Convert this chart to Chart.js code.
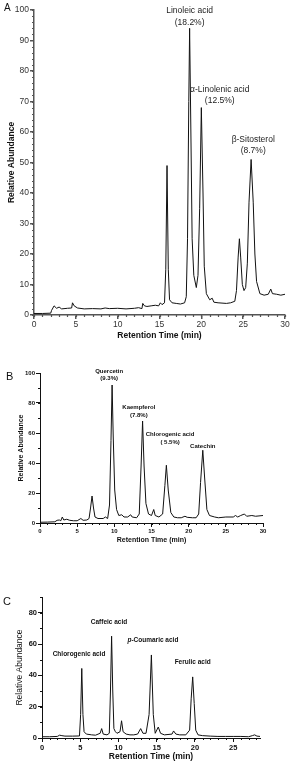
<!DOCTYPE html>
<html>
<head>
<meta charset="utf-8">
<script src="https://cdn.jsdelivr.net/npm/chart.js@4.4.1/dist/chart.umd.min.js"></script>
<style>
  body { margin:0; background:#fff; width:298px; height:765px; position:relative; overflow:hidden; }
  .panel { position:absolute; left:0; width:298px; }
</style>
</head>
<body>
<div class="panel" style="top:0px;height:342px"><canvas id="chartA" width="298" height="342"></canvas></div>
<div class="panel" style="top:350px;height:198px"><canvas id="chartB" width="298" height="198"></canvas></div>
<div class="panel" style="top:560px;height:205px"><canvas id="chartC" width="298" height="205"></canvas></div>
<script>
// Panel A - fatty acids / sterol (retention time in min, relative abundance)
const timeA = [0,1,2,2.1,2.4,2.7,3,3.3,4,4.5,4.6,4.8,5.2,6,7,8,8.5,9,10,11,12,12.5,12.9,13,13.2,13.5,14,14.5,14.9,15.1,15.3,15.6,15.75,15.9,16.05,16.2,16.5,17,17.5,18,18.2,18.35,18.5,18.6,18.75,18.9,19.1,19.4,19.6,19.8,20,20.2,20.35,20.6,21,21.3,21.5,22,23,23.5,24,24.2,24.4,24.55,24.7,24.9,25.1,25.3,25.5,25.7,25.95,26.2,26.4,26.6,27,27.5,28,28.3,28.5,29,29.5,30];
const abundA = [0.5,0.5,0.6,1.5,3,2.2,2.6,2,2.2,2.3,4,3,2.3,2,2.1,2,2.3,2.1,2.2,2,2.2,2.4,2.1,3.8,3,2.8,3,3.2,3,4,3.4,4,15,49,15,5,4,3.8,3.6,4,6,25,70,94,60,25,13,9,13,35,68,40,16,7,5,5.5,4.2,4,3.8,4,4.5,8,19,25,19,10,8,9,17,37,51,37,20,11,7,6.5,6.8,8.5,7,6.8,6.5,6.8];
const namesA = ['Linoleic acid','\u03b1-Linolenic acid','\u03b2-Sitosterol'];
const sharesA = ['(18.2%)','(12.5%)','(8.7%)'];

// Panel B - flavonoids
const timeB = [0,1,2,2.3,2.6,2.8,3,3.2,3.6,4,4.5,5,5.5,5.8,6.3,6.6,6.8,7,7.2,7.4,7.8,8.5,8.8,9.1,9.35,9.55,9.7,9.85,10.05,10.3,10.6,11,11.3,11.8,12.2,12.4,13,13.35,13.6,13.8,14,14.25,14.6,15,15.3,15.5,16,16.5,16.8,17,17.25,17.6,18,18.5,19,19.5,19.8,20.5,21,21.35,21.6,21.9,22.15,22.45,22.8,23.5,24,25,26,26.3,26.6,27,27.5,27.8,28.5,29,30];
const abundB = [0.5,0.6,0.8,1.8,2,1.5,4,2,2.5,1.8,1.5,1.5,3,1.8,2,3,10,18,10,4,3,3,4,3,12,55,92,58,22,9,5,5.5,4,4,5.5,4,3.5,6,38,68,38,13,6,5,9,5,4,6,25,38.5,22,7,4,3.5,3.5,4.5,3.8,3.5,3.5,6,27,48.5,30,9,5,4,3.5,4,4,5,4,5,6,4.5,5,4.5,5];
const namesB = ['Quercetin','Kaempferol','Chlorogenic acid','Catechin'];
const sharesB = ['(9.3%)','(7.8%)','( 5.5%)',''];

// Panel C - phenolic acids
const timeC = [0,1,2,2.3,2.6,3,4,4.9,5.05,5.2,5.35,5.5,5.8,6.5,7,7.6,7.8,8,8.5,8.8,8.95,9.1,9.25,9.4,9.6,9.8,10.2,10.4,10.6,11,11.5,12,12.5,12.9,13.2,13.6,14,14.3,14.55,14.8,15.2,15.5,16,17,17.2,17.5,18,18.8,19.3,19.5,19.7,19.9,20.1,20.4,21,22,23,24,25,26,27,27.5,27.8,28.1,28.5];
const abundC = [0.8,0.8,1,1.8,1.5,1.2,1.2,1.3,15,44.4,15,4,2.5,2,1.8,3,6,2.5,2,3,30,65,30,6,4,3,4,11,4,2.5,2,2,2.5,6,3,3,15,53,15,3,7,3,2,2.5,4.5,2.5,2,2,5,25,39,22,5,2,1.5,1.2,1,1,1,1,0.8,1.5,2,1.2,1];
const namesC = ['Chlorogenic acid','Caffeic acid','-Coumaric acid','Ferulic acid'];

const FONT = "'Liberation Sans', Arial, Helvetica, sans-serif";

// minor ticks, peak labels and panel letter
const extras = {
  id: 'extras',
  afterDraw(chart, args, o) {
    const ctx = chart.ctx, xs = chart.scales.x, ys = chart.scales.y, ca = chart.chartArea;
    ctx.save();
    ctx.strokeStyle = o.color; ctx.lineWidth = o.width;
    ctx.beginPath();
    for (let v = xs.min; v <= xs.max + 1e-9; v += o.minorX) {
      const p = Math.round(xs.getPixelForValue(v)) + 0.5;
      ctx.moveTo(p, ca.bottom); ctx.lineTo(p, ca.bottom + o.minorLen);
    }
    for (let v = ys.min; v <= ys.max + 1e-9; v += o.minorY) {
      const p = Math.round(ys.getPixelForValue(v)) + 0.5;
      ctx.moveTo(ca.left, p); ctx.lineTo(ca.left - o.minorLen, p);
    }
    ctx.stroke();
    ctx.fillStyle = o.textColor;
    ctx.textAlign = 'center'; ctx.textBaseline = 'middle';
    o.labels.forEach(l => {
      ctx.font = o.labelFont;
      const px = xs.getPixelForValue(l.x);
      l.lines.forEach((t, i) => {
        if (!t) return;
        const py = ys.getPixelForValue(l.y[i]);
        if (l.italic && i === 0) {
          ctx.font = 'italic ' + o.labelFont;
          const w1 = ctx.measureText(l.italic).width;
          ctx.font = o.labelFont;
          const w2 = ctx.measureText(t).width;
          const x0 = px - (w1 + w2) / 2;
          ctx.textAlign = 'left';
          ctx.font = 'italic ' + o.labelFont;
          ctx.fillText(l.italic, x0, py);
          ctx.font = o.labelFont;
          ctx.fillText(t, x0 + w1, py);
          ctx.textAlign = 'center';
        } else {
          ctx.fillText(t, px, py);
        }
      });
    });
    ctx.font = o.letterFont; ctx.textAlign = 'left'; ctx.textBaseline = 'alphabetic';
    ctx.fillStyle = '#111';
    ctx.fillText(o.letter, o.letterX, o.letterY);
    ctx.restore();
  }
};

function makeChart(id, p) {
  const pts = p.time.map((t, i) => ({x: t, y: p.abund[i]}));
  return new Chart(document.getElementById(id), {
    type: 'scatter',
    data: { datasets: [{ data: pts, showLine: true, borderColor: '#111', borderWidth: 1, pointRadius: 0, tension: 0 }] },
    options: {
      responsive: false, animation: false,
      layout: { padding: p.pad },
      plugins: { legend: {display:false}, tooltip: {enabled:false}, extras: p.extras },
      scales: {
        x: {
          type: 'linear', min: 0, max: p.xmax,
          border: { color: p.axisColor, width: p.axisWidth },
          grid: { drawOnChartArea: false, tickLength: 4, color: p.axisColor, lineWidth: p.axisWidth },
          ticks: { stepSize: 5, includeBounds: false, padding: 1, color: p.tickColor, font: p.tickFont, maxRotation: 0 },
          title: { display: true, text: 'Retention Time (min)', color: '#111', font: p.xTitleFont, padding: p.xTitlePad },
          afterFit: s => { s.height = p.xH; }
        },
        y: {
          type: 'linear', min: 0, max: p.ymax,
          border: { color: p.axisColor, width: p.axisWidth },
          grid: { drawOnChartArea: false, tickLength: 4, color: p.axisColor, lineWidth: p.axisWidth },
          ticks: { stepSize: p.ystep, includeBounds: false, padding: 1, color: p.tickColor, font: p.tickFont },
          title: { display: true, text: 'Relative Abundance', color: '#111', font: p.yTitleFont, padding: p.yTitlePad },
          afterFit: s => { s.width = p.yW; }
        }
      }
    },
    plugins: [extras]
  });
}

makeChart('chartA', {
  time: timeA, abund: abundA, xmax: 30, ymax: 100, ystep: 10,
  pad: {top: 10, right: 13, bottom: 0, left: 0}, xH: 27, yW: 34,
  axisColor: '#555', axisWidth: 1.5, tickColor: '#333',
  tickFont: {family: FONT, size: 8.5},
  xTitleFont: {family: FONT, size: 8.5, weight: 'bold'}, xTitlePad: {top: 0, bottom: 1},
  yTitleFont: {family: FONT, size: 8.5, weight: 'bold'}, yTitlePad: {top: 7, bottom: 0},
  extras: {
    color: '#555', width: 1.2, minorX: 1, minorY: 2, minorLen: 2, textColor: '#222',
    labelFont: '8.5px ' + FONT,
    labels: [
      {lines: [namesA[0], sharesA[0]], x: 18.6, y: [99.8, 95.8]},
      {lines: [namesA[1], sharesA[1]], x: 22.2, y: [73.8, 70.2]},
      {lines: [namesA[2], sharesA[2]], x: 26.2, y: [57.4, 53.8]}
    ],
    letter: 'A', letterFont: '10px ' + FONT, letterX: 4, letterY: 11
  }
});

makeChart('chartB', {
  time: timeB, abund: abundB, xmax: 30, ymax: 100, ystep: 20,
  pad: {top: 23, right: 35, bottom: 0, left: 0}, xH: 25, yW: 40,
  axisColor: '#111', axisWidth: 1, tickColor: '#111',
  tickFont: {family: FONT, size: 6, weight: 'bold'},
  xTitleFont: {family: FONT, size: 7, weight: 'bold'}, xTitlePad: {top: 0, bottom: 4},
  yTitleFont: {family: FONT, size: 7, weight: 'bold'}, yTitlePad: {top: 17, bottom: 0},
  extras: {
    color: '#111', width: 1, minorX: 1, minorY: 10, minorLen: 2, textColor: '#111',
    labelFont: 'bold 6px ' + FONT,
    labels: [
      {lines: [namesB[0], sharesB[0]], x: 9.3, y: [101.3, 96.6]},
      {lines: [namesB[1], sharesB[1]], x: 13.3, y: [77.3, 71.9]},
      {lines: [namesB[2], sharesB[2]], x: 17.5, y: [59.3, 53.9]},
      {lines: [namesB[3], sharesB[3]], x: 21.9, y: [51.2, 0]}
    ],
    letter: 'B', letterFont: '11px ' + FONT, letterX: 6, letterY: 30
  }
});

makeChart('chartC', {
  time: timeC, abund: abundC, xmax: 28.5, ymax: 90, ystep: 20,
  pad: {top: 37, right: 38, bottom: 0, left: 0}, xH: 27, yW: 42,
  axisColor: '#111', axisWidth: 1, tickColor: '#111',
  tickFont: {family: FONT, size: 7.5, weight: 'bold'},
  xTitleFont: {family: FONT, size: 8.5, weight: 'bold'}, xTitlePad: {top: 0, bottom: 3},
  yTitleFont: {family: FONT, size: 8.5}, yTitlePad: {top: 15, bottom: 0},
  extras: {
    color: '#111', width: 1, minorX: 1, minorY: 10, minorLen: 2, textColor: '#111',
    labelFont: 'bold 6.5px ' + FONT,
    labels: [
      {lines: [namesC[0]], x: 4.84, y: [53.8]},
      {lines: [namesC[1]], x: 8.76, y: [74.2]},
      {lines: [namesC[2]], x: 14.5, y: [62.5], italic: 'p'},
      {lines: [namesC[3]], x: 19.7, y: [48.6]}
    ],
    letter: 'C', letterFont: '11px ' + FONT, letterX: 3, letterY: 45
  }
});
</script>
</body>
</html>
